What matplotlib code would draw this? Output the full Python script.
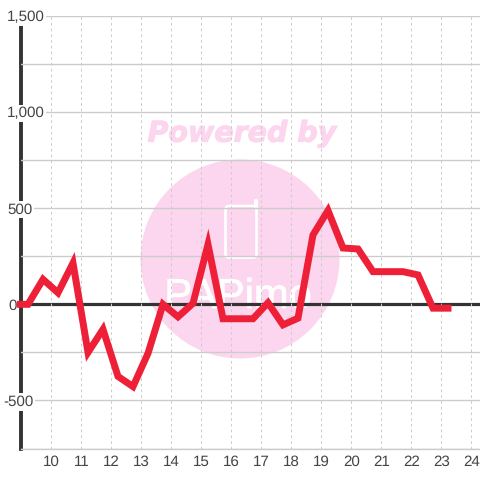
import matplotlib
matplotlib.use('Agg')
import matplotlib.pyplot as plt
import matplotlib.patheffects as pe
from matplotlib.patches import Circle, FancyBboxPatch
from matplotlib.transforms import Affine2D, ScaledTranslation

hours = [9.0, 9.25, 9.75, 10.25, 10.75, 11.25, 11.75, 12.25, 12.75, 13.25, 13.75,
         14.25, 14.75, 15.25, 15.75, 16.25, 16.75, 17.25, 17.75, 18.25, 18.75,
         19.25, 19.75, 20.25, 20.75, 21.25, 21.75, 22.25, 22.75, 23.25]
values = [0, 0, 130, 60, 215, -250, -130, -375, -428, -255, 0,
          -65, 5, 312, -75, -75, -75, 8, -107, -72, 361,
          488, 293, 288, 170, 170, 170, 153, -20, -20]
x_ticks = list(range(10, 25))
y_major = [-500, 0, 500, 1000, 1500]
y_labels = ['-500', '0', '500', '1,000', '1,500']
y_minor = [-750, -250, 250, 750, 1250]

plt.rcParams['font.family'] = ['Liberation Sans', 'DejaVu Sans']
plt.rcParams['text.hinting'] = 'no_hinting'
W = H = 480
fig = plt.figure(figsize=(4.8, 4.8), dpi=100, facecolor='white')
ax = fig.add_axes([20.5 / W, (H - 448.5) / H, (W - 20.5) / W, 432.5 / H])
ax.patch.set_alpha(0)
ax.set_xlim(9, 9 + (W - 20.5) / 30)
ax.set_ylim(-750, 1500)

# watermark, in pixel coordinates (y flipped)
px = Affine2D().scale(1, -1).translate(0, H)
pink = '#fcd6ee'
fig.patches.append(Circle((240, 259), 99.5, transform=px, fc=pink, ec='none', zorder=-5))
fig.patches.append(FancyBboxPatch((225.5, 206), 31, 51.5, boxstyle='round,pad=0,rounding_size=3.5',
                                  transform=px, fc='none', ec='white', lw=1.9, zorder=-4))
fig.add_artist(plt.Line2D([255.5, 255.5], [206, 201], transform=px, color='white', lw=3,
                          zorder=-4, solid_capstyle='round'))
fig.text(242, 134, 'Powered by', transform=px, color=pink, fontsize=20.5, family='DejaVu Sans',
         weight='bold', style='italic', ha='center', va='center', zorder=-5,
         path_effects=[pe.withStroke(linewidth=0.8, foreground=pink)])
fig.text(238, 308, 'PAPimo', transform=px, color='white', fontsize=30,
         family=['Liberation Sans Narrow', 'Liberation Sans'],
         ha='center', va='baseline', zorder=-4,
         path_effects=[pe.withStroke(linewidth=0.6, foreground='white')])

# grid
ax.set_xticks(x_ticks)
ax.set_yticks(y_major)
ax.set_yticklabels(y_labels)
ax.set_yticks(y_minor, minor=True)
ax.grid(True, axis='x', color='#cccccc', lw=0.75, ls=(0, (2.5, 3)), zorder=1)
ax.grid(True, axis='y', which='both', color='#cccccc', lw=1.0, zorder=1)
ax.set_axisbelow(True)
ax.tick_params(which='both', length=0)
ax.tick_params(axis='x', labelsize=10.9, labelcolor='#444444', pad=5)
ax.tick_params(axis='y', labelsize=10.9, labelcolor='#444444', pad=0)

for s in ('top', 'right'):
    ax.spines[s].set_visible(False)
ax.spines['bottom'].set_color('#cccccc')
ax.spines['bottom'].set_linewidth(1.0)
ax.spines['left'].set_color('#333333')
ax.spines['left'].set_linewidth(2.8)
ax.spines['left'].set_zorder(0.3)
ax.axhline(0, color='#333333', lw=2.3, zorder=0.4)

ax.plot(hours, values, color='#ee2037', lw=5.0, solid_joinstyle='miter',
        solid_capstyle='projecting', clip_on=False, zorder=6)

# y tick labels sit over the axis on white boxes, left aligned
starts = {'-500': 3, '0': 8, '500': 7, '1,000': 7, '1,500': 7}
fig.canvas.draw()
for t in ax.yaxis.get_major_ticks():
    lab = t.label1
    lab.set_horizontalalignment('left')
    dx = (starts[lab.get_text()] - 20.5) / 100
    lab.set_transform(lab.get_transform() + ScaledTranslation(dx, 0, fig.dpi_scale_trans))
    lab.set_bbox(dict(fc='white', ec='none', pad=1.2))
    lab.set_clip_on(False)
    if lab.get_text() == '0':
        t.gridline.set_visible(False)
for t in ax.xaxis.get_major_ticks():
    lab = t.label1
    lab.set_transform(lab.get_transform() + ScaledTranslation(0.01, 0, fig.dpi_scale_trans))

fig.savefig('out.png', dpi=100)
